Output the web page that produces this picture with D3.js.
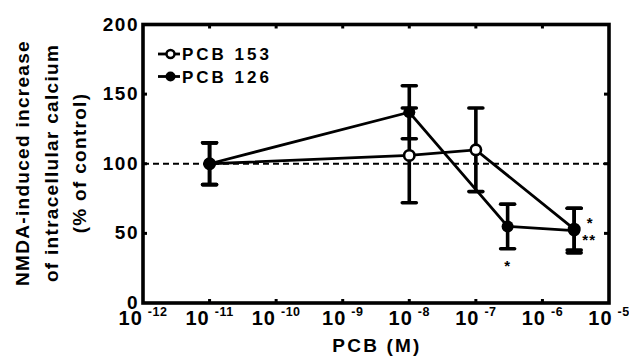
<!DOCTYPE html>
<html>
<head>
<meta charset="utf-8">
<script src="https://cdn.jsdelivr.net/npm/d3@7"></script>
<style>
  body { margin: 0; background: #fff; }
  text { font-family: "Liberation Sans", Arial, sans-serif; font-weight: bold; fill: #000; }
</style>
</head>
<body>
<div id="canvas"></div>
<script>
// PCB 153 (open circles)
const conc153 = [1e-11, 1e-8, 1e-7, 3e-6];
const mean153 = [100, 106, 110, 53];
const err153 = [15, 34, 30, 15];

// PCB 126 (filled circles)
const conc126 = [1e-11, 1e-8, 3e-7, 3e-6];
const mean126 = [100, 137, 55, 52];
const err126 = [15, 19, 16, 16];

const yTicks = [0, 50, 100, 150, 200];
const xExps = [-12, -11, -10, -9, -8, -7, -6, -5];
const titleLines = ["NMDA-induced increase", "of intracellular calcium", "(% of control)"];

const width = 629, height = 356;
const margin = { top: 24.5, right: 20, bottom: 53, left: 143 };

const svg = d3.select("#canvas")
    .append("svg")
    .attr("width", width)
    .attr("height", height);

const x = d3.scaleLog()
    .domain([1e-12, 1e-5])
    .range([margin.left, width - margin.right]);

const y = d3.scaleLinear()
    .domain([0, 200])
    .range([height - margin.bottom, margin.top]);

const toPts = (c, m, e) => c.map((d, i) => ({ c: d, m: m[i], e: e[i] }));
const s153 = toPts(conc153, mean153, err153);
const s126 = toPts(conc126, mean126, err126);

// dashed control line
svg.append("line")
    .attr("x1", x(1e-12)).attr("x2", x(1e-5))
    .attr("y1", y(100)).attr("y2", y(100))
    .attr("stroke", "#000")
    .attr("stroke-width", 2)
    .attr("stroke-dasharray", "6,4");

// ticks (inward) on all sides
const innerExps = xExps.slice(1, -1);
innerExps.forEach(e => {
    const xx = x(Math.pow(10, e));
    svg.append("line").attr("x1", xx).attr("x2", xx)
        .attr("y1", y(0)).attr("y2", y(0) - 4)
        .attr("stroke", "#000").attr("stroke-width", 3);
    svg.append("line").attr("x1", xx).attr("x2", xx)
        .attr("y1", y(200)).attr("y2", y(200) + 4)
        .attr("stroke", "#000").attr("stroke-width", 3);
});
[50, 100, 150].forEach(v => {
    svg.append("line").attr("x1", x(1e-5)).attr("x2", x(1e-5) - 5)
        .attr("y1", y(v)).attr("y2", y(v))
        .attr("stroke", "#000").attr("stroke-width", 3);
    svg.append("line").attr("x1", x(1e-12)).attr("x2", x(1e-12) + 4)
        .attr("y1", y(v)).attr("y2", y(v))
        .attr("stroke", "#000").attr("stroke-width", 3);
});

// frame
svg.append("rect")
    .attr("x", x(1e-12)).attr("y", y(200))
    .attr("width", x(1e-5) - x(1e-12))
    .attr("height", y(0) - y(200))
    .attr("fill", "none")
    .attr("stroke", "#000")
    .attr("stroke-width", 3.6);

// y tick labels
svg.selectAll("text.ytick")
    .data(yTicks)
    .join("text")
    .attr("class", "ytick")
    .attr("x", x(1e-12) - 4)
    .attr("y", d => y(d))
    .attr("dy", "0.32em")
    .attr("text-anchor", "end")
    .attr("font-size", 19)
    .attr("letter-spacing", 1.5)
    .text(d => d);

// x tick labels 10^n
const xl = svg.selectAll("text.xtick")
    .data(xExps)
    .join("text")
    .attr("class", "xtick")
    .attr("x", d => x(Math.pow(10, d)))
    .attr("y", 325)
    .attr("text-anchor", "middle")
    .attr("font-size", 20)
    .attr("letter-spacing", 1);
xl.append("tspan").text("10");
xl.append("tspan")
    .attr("dx", 5)
    .attr("dy", -9)
    .attr("font-size", 12.5)
    .attr("letter-spacing", 0.5)
    .text(d => "-" + Math.abs(d));

// axis titles
svg.append("text")
    .attr("x", 377)
    .attr("y", 352)
    .attr("text-anchor", "middle")
    .attr("font-size", 19)
    .attr("letter-spacing", 2.2)
    .text("PCB (M)");

svg.append("g")
    .attr("transform", "translate(0,163) rotate(-90)")
    .selectAll("text")
    .data(titleLines)
    .join("text")
    .attr("x", 0)
    .attr("y", (d, i) => 29 + i * 28.5)
    .attr("text-anchor", "middle")
    .attr("font-size", 19)
    .attr("letter-spacing", 1.3)
    .text(d => d);

// series lines
const line = d3.line().x(d => x(d.c)).y(d => y(d.m));
[s153, s126].forEach(s => {
    svg.append("path")
        .attr("d", line(s))
        .attr("fill", "none")
        .attr("stroke", "#000")
        .attr("stroke-width", 2.8);
});

// error bars
function errorBars(s) {
    const g = svg.append("g").attr("stroke", "#000");
    s.forEach(d => {
        const xx = x(d.c);
        g.append("line").attr("x1", xx).attr("x2", xx)
            .attr("y1", y(d.m - d.e)).attr("y2", y(d.m + d.e))
            .attr("stroke-width", 3.6);
        [d.m - d.e, d.m + d.e].forEach(v => {
            g.append("line").attr("x1", xx - 7).attr("x2", xx + 7)
                .attr("y1", y(v)).attr("y2", y(v))
                .attr("stroke-width", 3.6)
                .attr("stroke-linecap", "round");
        });
    });
}
errorBars(s126);
errorBars(s153);

// markers: open first, filled on top
svg.selectAll("circle.m153")
    .data(s153)
    .join("circle")
    .attr("class", "m153")
    .attr("cx", d => x(d.c)).attr("cy", d => y(d.m))
    .attr("r", 5.2)
    .attr("fill", "#fff")
    .attr("stroke", "#000")
    .attr("stroke-width", 2.6);

svg.selectAll("circle.m126")
    .data(s126)
    .join("circle")
    .attr("class", "m126")
    .attr("cx", d => x(d.c)).attr("cy", d => y(d.m))
    .attr("r", 6)
    .attr("fill", "#000");

// significance stars
const stars = [
    { c: 3e-7, v: mean126[2] - err126[2], dx: 0, dy: 22, t: "*" },
    { c: 3e-6, v: mean126[3], dx: 16, dy: -3, t: "*" },
    { c: 3e-6, v: mean126[3], dx: 15, dy: 14, t: "**" }
];
svg.selectAll("text.star")
    .data(stars)
    .join("text")
    .attr("class", "star")
    .attr("x", d => x(d.c) + d.dx)
    .attr("y", d => y(d.v) + d.dy)
    .attr("text-anchor", "middle")
    .attr("font-size", 15)
    .attr("letter-spacing", 1)
    .text(d => d.t);

// legend
const legend = [
    { name: "PCB 153", open: true },
    { name: "PCB 126", open: false }
];
const lg = svg.selectAll("g.legend")
    .data(legend)
    .join("g")
    .attr("class", "legend")
    .attr("transform", (d, i) => `translate(158,${54 + i * 22.5})`);
lg.append("line")
    .attr("x1", 0).attr("x2", 22)
    .attr("stroke", "#000").attr("stroke-width", 2.8);
lg.append("circle")
    .attr("cx", 12.5).attr("r", d => d.open ? 4 : 5)
    .attr("fill", d => d.open ? "#fff" : "#000")
    .attr("stroke", "#000")
    .attr("stroke-width", d => d.open ? 2.5 : 0);
lg.append("text")
    .attr("x", 24)
    .attr("dy", "0.36em")
    .attr("font-size", 17)
    .attr("letter-spacing", 3)
    .text(d => d.name);
</script>
</body>
</html>
